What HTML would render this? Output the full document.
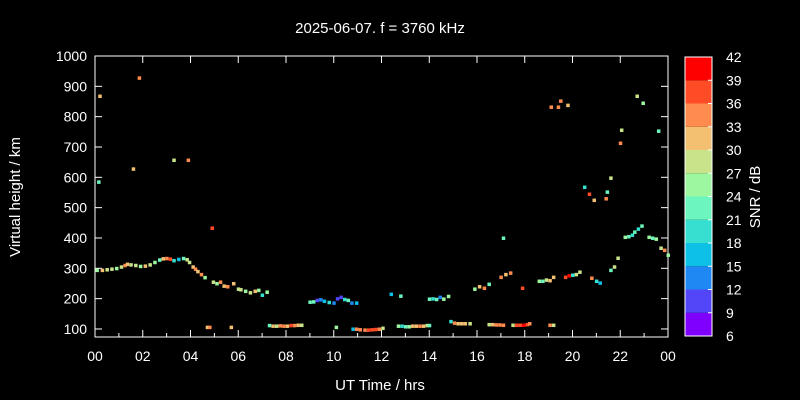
<!DOCTYPE html>
<html><head><meta charset="utf-8">
<style>
body{margin:0;background:#000;}
svg{display:block;font-family:"Liberation Sans",sans-serif;}
</style></head>
<body>
<svg id="chart" width="800" height="400" viewBox="0 0 800 400">
<rect width="800" height="400" fill="#000"/>
<text x="380" y="33" fill="#fff" font-size="15" text-anchor="middle">2025-06-07. f = 3760 kHz</text>
<text x="380" y="390" fill="#fff" font-size="15" text-anchor="middle">UT Time / hrs</text>
<text transform="translate(20,197) rotate(-90)" fill="#fff" font-size="15" text-anchor="middle">Virtual height / km</text>
<text transform="translate(760,197) rotate(-90)" fill="#fff" font-size="15" text-anchor="middle">SNR / dB</text>
<g id="axes"></g>
<g id="marks"></g>
<g id="cbar"></g>
</svg>
<script>
const xTicks=[0,2,4,6,8,10,12,14,16,18,20,22,24];
const xTickLabels=["00","02","04","06","08","10","12","14","16","18","20","22","00"];
const yTicks=[100,200,300,400,500,600,700,800,900,1000];
const cbTicks=[6,9,12,15,18,21,24,27,30,33,36,39,42];
const cbColors=["#8000ff","#5346f8","#2088f2","#0cc0e6","#36dfd0","#6cf5bd","#9cf7a0","#c8e38a","#f2c070","#ff8c4e","#ff4b26","#ff0000"];
const hours=[0.08,0.3,0.5,0.7,0.9,1.1,1.25,1.35,1.5,1.7,1.9,2.1,2.3,2.5,2.7,2.85,3.0,3.15,3.3,3.5,3.7,3.85,3.95,4.1,4.2,4.3,4.45,4.6,4.95,5.1,5.25,5.4,5.55,5.8,6.0,6.1,6.3,6.5,6.7,6.85,7.0,7.2,
9.0,9.15,9.3,9.45,9.6,9.8,10.0,10.15,10.3,10.45,10.6,10.75,10.95,12.4,12.8,14.0,14.15,14.3,14.45,14.6,14.8,15.9,16.1,16.3,16.5,17.0,17.2,17.4,18.6,18.75,18.9,19.05,19.2,19.7,19.85,20.0,20.15,20.3,20.8,21.0,21.15,21.6,21.75,21.9,22.2,22.35,22.5,22.6,22.75,22.9,23.2,23.35,23.5,23.7,23.85,24.0,
4.7,4.8,5.7,7.3,7.45,7.6,7.75,7.9,8.05,8.2,8.35,8.5,8.65,10.1,10.8,10.95,11.1,11.3,11.45,11.6,11.75,11.9,12.05,12.7,12.85,13.0,13.15,13.3,13.45,13.6,13.75,13.9,14.0,14.9,15.05,15.2,15.35,15.5,15.7,16.5,16.65,16.8,16.95,17.1,17.5,17.65,17.8,17.95,18.1,18.2,19.05,19.2,
0.2,0.15,1.6,1.85,3.3,3.9,4.9,17.1,17.9,19.1,19.4,19.5,19.8,20.5,20.7,20.9,21.4,21.45,21.6,22.0,22.05,22.7,22.95,23.6];
const heights=[294,294,296,298,300,305,310,314,312,310,307,308,312,320,328,332,333,331,326,330,333,329,320,305,298,290,280,270,255,250,255,242,240,250,232,230,225,220,225,228,212,222,
189,190,195,197,192,188,186,200,205,198,195,186,186,215,209,199,200,198,205,199,208,232,240,235,248,271,280,285,258,258,262,260,271,271,276,278,280,288,268,258,252,294,305,334,403,405,410,420,430,440,403,400,397,367,360,344,
106,106,106,112,110,110,111,110,110,112,112,113,113,106,100,100,98,97,97,98,99,100,103,110,110,108,108,110,110,110,110,112,112,125,120,118,118,118,118,115,115,114,114,113,113,113,113,113,115,118,113,113,
868,585,628,928,657,657,433,400,235,832,832,852,838,568,545,525,530,552,598,713,756,868,845,753];
const snrs=[26,31,29,27,26,29,33,32,28,27,26,31,29,25,23,32,34,36,19,17,23,29,28,30,34,32,34,24,28,25,35,31,33,30,27,29,25,27,30,24,19,24,
23,21,11,13,17,19,13,11,10,20,22,14,16,15,22,22,18,21,13,26,25,24,30,33,23,34,32,34,26,23,29,32,30,36,41,19,27,28,33,19,16,22,27,28,26,23,19,23,20,22,26,21,24,28,33,25,30,
34,32,21,31,28,33,35,30,37,34,32,27,25,15,35,35,34,38,38,36,34,29,24,20,22,26,31,32,33,30,28,22,20,34,31,32,30,29,28,30,33,35,35,27,36,38,39,36,34,35,27,31,
23,31,33,27,34,36,22,36,35,34,35,32,20,36,31,35,22,28,33,28,27,24,22,22];

const X=h=>95+h*23.875;
const Y=v=>56+(1000-v)*0.3033;
const NS="http://www.w3.org/2000/svg";
const axes=document.getElementById('axes');
function mk(tag,attrs,parent){const e=document.createElementNS(NS,tag);for(const k in attrs)e.setAttribute(k,attrs[k]);parent.appendChild(e);return e;}
const frame=mk('rect',{x:95,y:56,width:573,height:281,fill:'none',stroke:'#fff','stroke-width':1},axes);


xTicks.forEach((t,i)=>{
  const x=X(t);
  const l1=mk('line',{x1:x,x2:x,y1:337,y2:330,stroke:'#fff'},axes);
  
  
  const l2=mk('line',{x1:x,x2:x,y1:56,y2:63,stroke:'#fff'},axes);
  
  
  if(i<xTicks.length-1){
    const m=mk('line',{x1:X(t+1),x2:X(t+1),y1:337,y2:333,stroke:'#fff'},axes);
    
    
  }
  const tx=mk('text',{x:x,y:361,fill:'#fff','font-size':14,'text-anchor':'middle'},axes);
  tx.textContent=xTickLabels[i];
  
  
});
yTicks.forEach(t=>{
  const y=Y(t);
  const l1=mk('line',{x1:95,x2:102,y1:y,y2:y,stroke:'#fff'},axes);
  
  
  const l2=mk('line',{x1:668,x2:661,y1:y,y2:y,stroke:'#fff'},axes);
  
  
  const tx=mk('text',{x:87,y:y+5,fill:'#fff','font-size':14,'text-anchor':'end'},axes);
  tx.textContent=t;
  
  
});
function color(s){let i=Math.floor((s-6)/3);i=Math.max(0,Math.min(11,i));return cbColors[i];}
const marks=document.getElementById('marks');
hours.forEach((h,i)=>{
  const r=mk('rect',{x:X(h)-1.5,y:Y(heights[i])-1.5,width:3.5,height:3.5,fill:color(snrs[i])},marks);
  
  
});
const cb=document.getElementById('cbar');
const cbTop=57,cbBot=336,cbH=(cbBot-cbTop)/12;
cbColors.forEach((c,i)=>{
  const r=mk('rect',{x:685,y:cbBot-(i+1)*cbH,width:27,height:cbH,fill:c},cb);
  
  
});
const cbf=mk('rect',{x:685,y:cbTop,width:27,height:cbBot-cbTop,fill:'none',stroke:'#fff'},cb);


cbTicks.forEach((t,i)=>{
  const y=cbBot-i*cbH;
  const l=mk('line',{x1:708,x2:712,y1:y,y2:y,stroke:'#fff'},cb);
  
  
  const tx=mk('text',{x:726,y:y+5,fill:'#fff','font-size':14},cb);
  tx.textContent=t;
  
  
});
</script>
</body></html>
